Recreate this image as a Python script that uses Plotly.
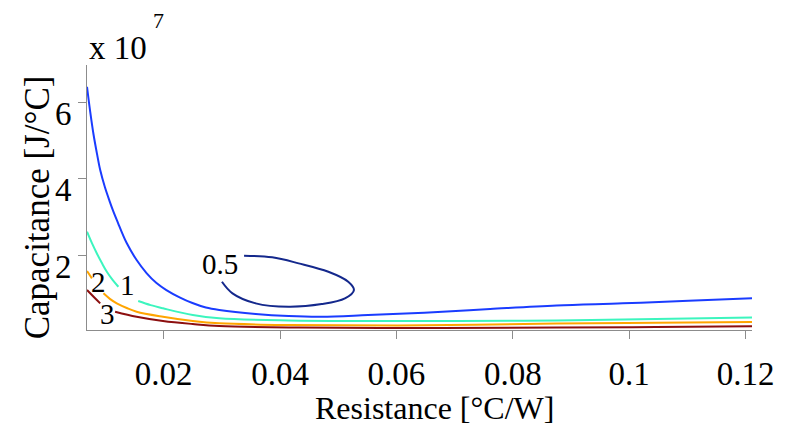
import plotly.graph_objects as go

# Contour levels; capacitance in units of 1e7 J/°C
res_05_outer = [0.00682, 0.00738, 0.00795, 0.00853, 0.00909, 0.00989, 0.01067, 0.01136, 0.01216,
                0.01292, 0.01364, 0.01535, 0.01705, 0.01876, 0.02046, 0.02273, 0.02494, 0.02725,
                0.02955, 0.03581, 0.04148, 0.04711, 0.05512, 0.06479, 0.0761, 0.08752, 0.09889,
                0.1102, 0.1211]
cap_05_outer = [6.400, 5.739, 5.146, 4.654, 4.222, 3.778, 3.425, 3.137, 2.837,
                2.554, 2.314, 1.869, 1.529, 1.268, 1.085, 0.894, 0.745, 0.627,
                0.562, 0.458, 0.405, 0.387, 0.431, 0.491, 0.588, 0.680, 0.737,
                0.805, 0.868]

res_05_inner = [0.03001, 0.03182, 0.03581, 0.04148, 0.04716, 0.05115, 0.05269, 0.05171, 0.0483,
                0.04319, 0.03864, 0.03381]
cap_05_inner = [1.302, 0.999, 0.737, 0.648, 0.719, 0.868, 1.085, 1.302, 1.563,
                1.783, 1.940, 1.982]

res_1 = [0.00682, 0.00767, 0.00852, 0.00938, 0.01023, 0.01122, 0.01221, None, 0.01562, 0.01775,
         0.01988, 0.025, 0.02955, 0.04148, 0.05512, 0.07047, 0.08752, 0.1046, 0.1211]
cap_1 = [2.61, 2.31, 2.04, 1.79, 1.563, 1.35, 1.171, None, 0.797, 0.69,
         0.607, 0.431, 0.345, 0.288, 0.275, 0.275, 0.288, 0.327, 0.366]

res_2 = [0.00682, 0.00767, None, 0.00965, 0.01075, 0.01194, 0.01365, 0.01535, 0.01988, 0.025,
         0.02955, 0.04148, 0.06024, 0.08752, 0.1046, 0.1211]
cap_2 = [1.582, 1.391, None, 0.999, 0.855, 0.737, 0.615, 0.518, 0.387, 0.275,
         0.214, 0.170, 0.157, 0.209, 0.230, 0.248]

res_3 = [0.00682, 0.00795, 0.00909, None, 0.01165, 0.01535, 0.01988, 0.025, 0.02955, 0.04319,
         0.06762, 0.08752, 0.1046, 0.1211]
cap_3 = [1.085, 0.910, 0.737, None, 0.518, 0.387, 0.275, 0.196, 0.144, 0.105,
         0.092, 0.105, 0.118, 0.136]

label_text = ["0.5", "1", "2", "3"]
label_res = [0.02972, 0.01378, 0.0088, 0.01037]
label_cap = [1.76, 1.22, 1.30, 0.45]

x_ticks = [0.02, 0.04, 0.06, 0.08, 0.1, 0.12]
x_ticktext = ["0.02", "0.04", "0.06", "0.08", "0.1", "0.12"]
y_ticks = [2, 4, 6]
y_ticktext = ["2", "4", "6"]

FONT = "Liberation Serif"

fig = go.Figure()

curves = [
    (res_05_outer, cap_05_outer, "#1a3cff"),
    (res_05_inner, cap_05_inner, "#14288c"),
    (res_1, cap_1, "#3cf5be"),
    (res_2, cap_2, "#ffa500"),
    (res_3, cap_3, "#8c0f0f"),
]
for xs, ys, col in curves:
    fig.add_trace(go.Scatter(x=xs, y=ys, mode="lines",
                             line=dict(color=col, width=2, shape="spline", smoothing=1.0),
                             connectgaps=False, hoverinfo="skip", showlegend=False))

for t, xv, yv in zip(label_text, label_res, label_cap):
    fig.add_annotation(x=xv, y=yv, text=t, showarrow=False, xref="x", yref="y",
                       xanchor="center", yanchor="middle",
                       font=dict(family=FONT, size=29, color="black"))

# axis titles and exponent
fig.add_annotation(x=(437 - 87) / 669, y=(330 - 408) / 265, xref="paper", yref="paper",
                   xanchor="center", yanchor="middle",
                   text="Resistance [°C/W]", showarrow=False,
                   font=dict(family=FONT, size=32, color="black"))
fig.add_annotation(x=(37 - 87) / 669, y=(330 - 207) / 265, xref="paper", yref="paper",
                   xanchor="center", yanchor="middle",
                   text="Capacitance [J/°C]", showarrow=False, textangle=-90,
                   font=dict(family=FONT, size=35, color="black"))
fig.add_annotation(x=0, y=(330 - 48) / 265, xref="paper", yref="paper",
                   xanchor="left", yanchor="middle",
                   text="x 10", showarrow=False,
                   font=dict(family=FONT, size=33, color="black"))
fig.add_annotation(x=(151 - 87) / 669, y=(330 - 20) / 265, xref="paper", yref="paper",
                   xanchor="left", yanchor="middle", text="7", showarrow=False,
                   font=dict(family=FONT, size=22, color="black"))

fig.update_layout(
    width=786, height=429,
    margin=dict(l=87, r=30, t=65, b=99),
    paper_bgcolor="white", plot_bgcolor="white",
    font=dict(family=FONT, color="black"),
)
fig.update_xaxes(range=[0.00682, 0.1211], tickvals=x_ticks, ticktext=x_ticktext,
                 showgrid=False, zeroline=False, showline=True, linecolor="#8c8c8c",
                 linewidth=1, ticks="outside", ticklen=8, tickcolor="#8c8c8c",
                 tickfont=dict(family=FONT, size=33, color="black"), ticklabelstandoff=6)
fig.update_yaxes(range=[0.04, 6.97], tickvals=y_ticks, ticktext=y_ticktext,
                 showgrid=False, zeroline=False, showline=True, linecolor="#8c8c8c",
                 linewidth=1, ticks="outside", ticklen=8, tickcolor="#8c8c8c",
                 tickfont=dict(family=FONT, size=33, color="black"), ticklabelshift=11)

fig.write_html("out.html")
